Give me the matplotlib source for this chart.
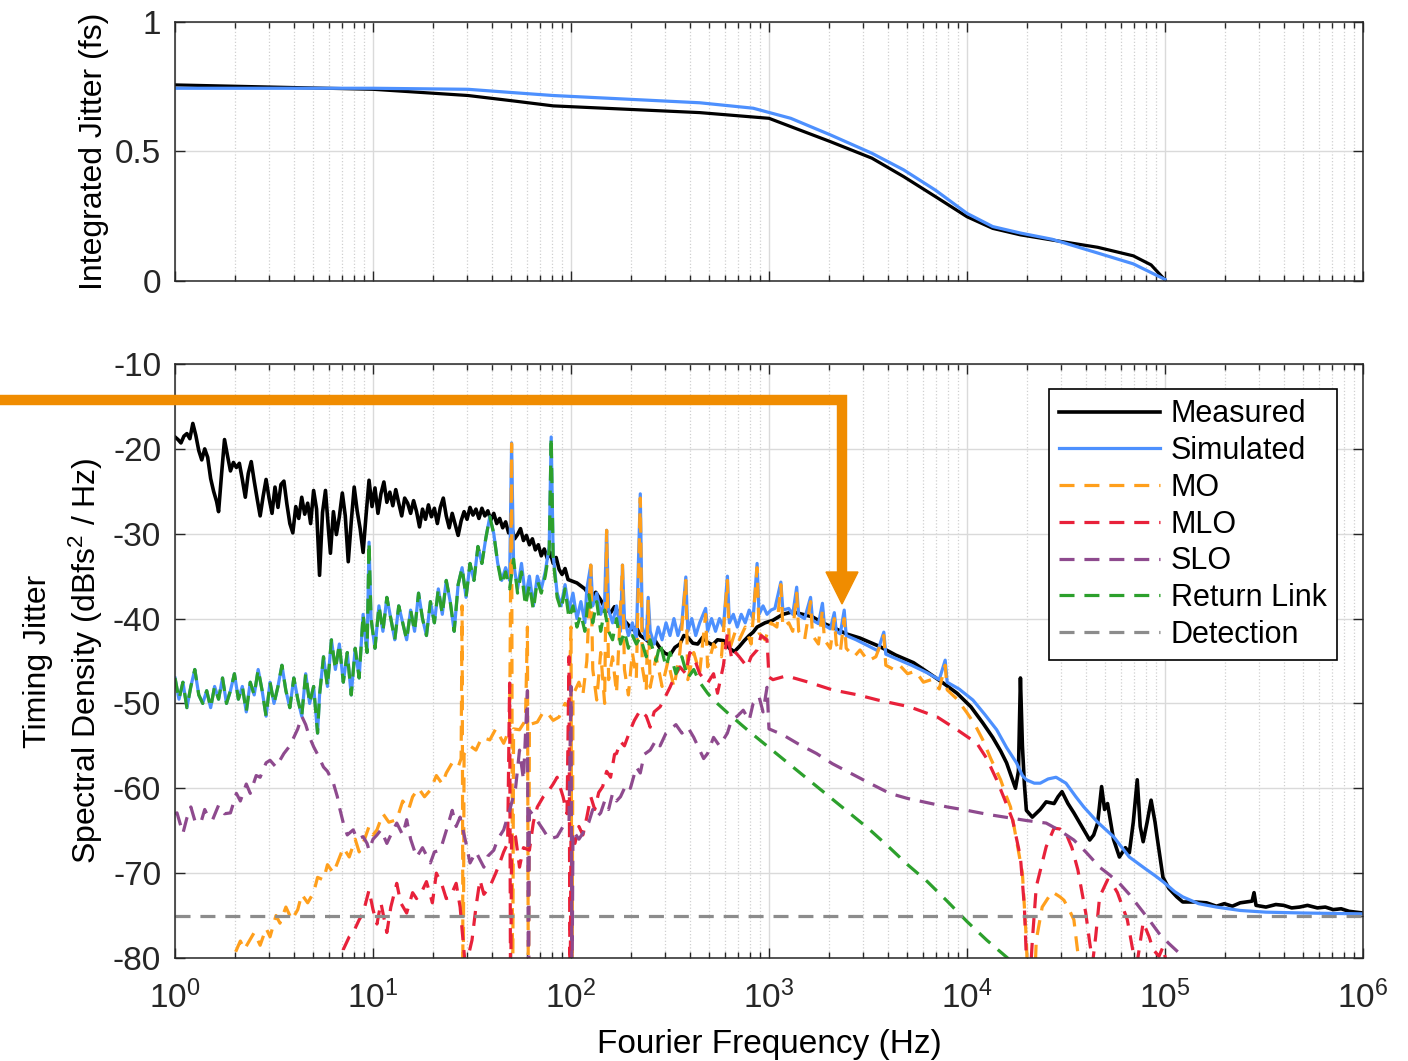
import numpy as np
import matplotlib
matplotlib.use("Agg")
import matplotlib.pyplot as plt
from matplotlib.lines import Line2D
from matplotlib.patches import Polygon

plt.rcParams['font.family'] = ['Liberation Sans', 'DejaVu Sans']
plt.rcParams['mathtext.fontset'] = 'custom'
plt.rcParams['mathtext.rm'] = 'Liberation Sans'
plt.rcParams['mathtext.it'] = 'Liberation Sans:italic'
plt.rcParams['mathtext.default'] = 'regular'
plt.rcParams['axes.unicode_minus'] = False

# ---------------- data (log10 of frequency in Hz, value) ----------------
# top panel: integrated jitter (fs)
int_meas_lf = [0.0, 1.0, 1.48, 1.71, 1.91, 2.65, 3.0, 3.11, 3.31, 3.52, 3.68, 3.84, 4.0,
               4.13, 4.27, 4.43, 4.66, 4.84, 4.93, 5.0]
int_meas = [0.757, 0.740, 0.716, 0.695, 0.676, 0.650, 0.628, 0.596, 0.538, 0.474, 0.403,
            0.326, 0.248, 0.203, 0.178, 0.158, 0.130, 0.097, 0.062, 0.004]
int_sim_lf = [0.0, 1.0, 1.48, 1.71, 1.91, 2.65, 2.92, 3.11, 3.31, 3.52, 3.68, 3.84, 4.0,
              4.13, 4.27, 4.43, 4.66, 4.84, 5.0]
int_sim = [0.744, 0.744, 0.740, 0.727, 0.716, 0.688, 0.667, 0.628, 0.564, 0.493, 0.429,
           0.351, 0.261, 0.210, 0.185, 0.161, 0.108, 0.066, 0.006]

# bottom panel: timing jitter PSD (dBfs^2/Hz), measured as (log10 f, dB) pairs
meas_pts = [
    (0.000, -18.6), (0.015, -18.9), (0.030, -19.3), (0.045, -18.5), (0.060, -18.2),
    (0.075, -18.8), (0.090, -17.0), (0.105, -18.4), (0.120, -20.2), (0.135, -21.3),
    (0.150, -20.0), (0.165, -21.0), (0.180, -23.5), (0.195, -25.0), (0.210, -26.2),
    (0.220, -27.4), (0.235, -23.0), (0.250, -18.9), (0.265, -20.8), (0.280, -22.6),
    (0.295, -21.6), (0.310, -22.2), (0.325, -21.7), (0.340, -23.6), (0.355, -25.7),
    (0.370, -22.9), (0.385, -21.5), (0.400, -23.8), (0.415, -25.9), (0.430, -27.9),
    (0.445, -25.6), (0.460, -23.6), (0.475, -25.8), (0.490, -27.6), (0.505, -24.5),
    (0.520, -26.9), (0.535, -24.2), (0.550, -23.8), (0.565, -26.5), (0.580, -28.8),
    (0.595, -29.9), (0.610, -26.8), (0.625, -28.2), (0.640, -25.7), (0.655, -27.7),
    (0.670, -26.4), (0.685, -28.8), (0.700, -24.9), (0.715, -27.1), (0.730, -34.9),
    (0.745, -27.5), (0.760, -24.9), (0.775, -29.5), (0.785, -32.3), (0.800, -27.4),
    (0.815, -30.1), (0.830, -28.0), (0.845, -25.2), (0.860, -27.9), (0.875, -33.3),
    (0.890, -28.6), (0.905, -24.5), (0.920, -27.3), (0.935, -29.4), (0.950, -32.2),
    (0.965, -27.8), (0.980, -23.7), (0.995, -26.8), (1.010, -24.6), (1.025, -27.6),
    (1.040, -25.3), (1.055, -23.9), (1.070, -26.3), (1.085, -25.1), (1.100, -26.7),
    (1.115, -24.8), (1.130, -26.4), (1.145, -27.9), (1.160, -25.8), (1.175, -26.4),
    (1.190, -27.6), (1.205, -26.1), (1.220, -27.4), (1.235, -29.2), (1.250, -27.1),
    (1.265, -28.3), (1.280, -26.6), (1.295, -28.0), (1.310, -27.0), (1.325, -28.8),
    (1.340, -26.9), (1.355, -25.8), (1.370, -27.9), (1.385, -29.3), (1.400, -27.6),
    (1.415, -28.9), (1.430, -30.2), (1.445, -28.5), (1.460, -27.4), (1.475, -28.3),
    (1.490, -26.9), (1.505, -27.8), (1.520, -27.1), (1.535, -28.2), (1.550, -27.0),
    (1.565, -27.9), (1.580, -27.3), (1.595, -28.4), (1.610, -27.6), (1.625, -28.8),
    (1.640, -28.2), (1.655, -29.3), (1.670, -28.6), (1.685, -29.9), (1.700, -29.2),
    (1.715, -30.6), (1.730, -30.1), (1.745, -29.4), (1.760, -30.8), (1.775, -30.2),
    (1.790, -31.3), (1.805, -30.6), (1.820, -31.9), (1.835, -31.3), (1.850, -32.6),
    (1.865, -31.8), (1.880, -32.9), (1.895, -32.2), (1.910, -33.5), (1.925, -32.8),
    (1.940, -34.2), (1.955, -34.8), (1.970, -34.1), (1.985, -35.4), (2.030, -35.8),
    (2.070, -36.5), (2.100, -37.5), (2.125, -36.9), (2.150, -37.8), (2.175, -38.9),
    (2.200, -39.3), (2.220, -38.6), (2.240, -39.3), (2.260, -40.1), (2.280, -40.5),
    (2.310, -41.3), (2.330, -41.0), (2.350, -42.0), (2.375, -42.4), (2.400, -42.9),
    (2.425, -42.6), (2.450, -43.5), (2.475, -44.1), (2.500, -44.3), (2.525, -43.4),
    (2.550, -43.0), (2.570, -42.0), (2.590, -42.2), (2.615, -42.9), (2.640, -43.0),
    (2.665, -42.2), (2.690, -42.8), (2.715, -43.1), (2.740, -42.5), (2.770, -42.6),
    (2.800, -43.5), (2.825, -43.9), (2.850, -43.3), (2.875, -42.6), (2.900, -42.0),
    (2.920, -41.6), (2.940, -41.0), (2.980, -40.5), (3.020, -40.2), (3.070, -39.5),
    (3.120, -39.2), (3.170, -39.5), (3.220, -39.8), (3.270, -40.5), (3.320, -41.0),
    (3.390, -41.8), (3.460, -42.3), (3.510, -42.8), (3.560, -43.3), (3.640, -44.3),
    (3.730, -45.2), (3.800, -46.3), (3.880, -47.6), (3.950, -48.8), (4.020, -50.4),
    (4.080, -52.3), (4.130, -54.0), (4.170, -55.6), (4.200, -57.0), (4.230, -59.0),
    (4.245, -60.0), (4.260, -58.0), (4.270, -47.0), (4.280, -55.0), (4.290, -59.5),
    (4.300, -62.6), (4.330, -63.4), (4.370, -62.5), (4.400, -61.6), (4.440, -61.8),
    (4.460, -61.0), (4.480, -60.4), (4.510, -61.8), (4.540, -62.9), (4.580, -64.5),
    (4.620, -66.1), (4.640, -65.5), (4.660, -64.1), (4.680, -59.8), (4.695, -62.5),
    (4.710, -61.8), (4.740, -66.0), (4.770, -68.1), (4.800, -67.0), (4.820, -67.6),
    (4.840, -64.0), (4.860, -59.0), (4.875, -64.5), (4.890, -66.3), (4.910, -64.0),
    (4.930, -61.4), (4.950, -64.0), (4.960, -65.7), (4.990, -70.5), (5.020, -71.8),
    (5.060, -72.8), (5.090, -73.4), (5.150, -73.4), (5.210, -73.5), (5.260, -73.9),
    (5.300, -73.6), (5.340, -73.9), (5.380, -73.5), (5.440, -73.3), (5.450, -72.3),
    (5.460, -73.8), (5.510, -74.0), (5.560, -73.7), (5.600, -73.8), (5.640, -74.1),
    (5.680, -74.0), (5.720, -73.8), (5.770, -74.1), (5.810, -74.0), (5.850, -74.3),
    (5.890, -74.2), (5.930, -74.5), (6.000, -74.7)]
meas_lf = [p[0] for p in meas_pts]
meas = [p[1] for p in meas_pts]

rl_lf = [0.00, 0.02, 0.04, 0.06, 0.08, 0.10, 0.12, 0.14, 0.16, 0.18, 0.20, 0.22, 0.24, 0.26,
         0.28, 0.30, 0.32, 0.34, 0.36, 0.38, 0.40, 0.42, 0.44, 0.46, 0.48, 0.50, 0.52, 0.54,
         0.56, 0.58, 0.60, 0.62, 0.64, 0.66, 0.68, 0.70, 0.72, 0.73, 0.75, 0.77, 0.79, 0.81,
         0.83, 0.85, 0.87, 0.89, 0.91, 0.93, 0.95, 0.97, 0.98, 0.99, 1.01, 1.03, 1.05, 1.07,
         1.09, 1.11, 1.13, 1.15, 1.17, 1.19, 1.21, 1.23, 1.25, 1.27, 1.29, 1.31, 1.33, 1.35,
         1.37, 1.39, 1.41, 1.43, 1.45, 1.47, 1.49, 1.51, 1.53, 1.55, 1.57, 1.59, 1.61, 1.63,
         1.65, 1.67, 1.69, 1.71, 1.73, 1.75, 1.77, 1.79, 1.81, 1.83, 1.85, 1.87, 1.89, 1.90,
         1.91, 1.93, 1.95, 1.97, 1.99, 2.01, 2.03, 2.05, 2.07, 2.09, 2.11, 2.13, 2.15, 2.17,
         2.19, 2.21, 2.23, 2.25, 2.27, 2.29, 2.31, 2.33, 2.35, 2.38, 2.40, 2.43, 2.45, 2.48,
         2.50, 2.53, 2.56, 2.59, 2.62, 2.65, 2.69, 2.72, 2.80, 2.90, 3.00, 3.10, 3.20, 3.30,
         3.40, 3.50, 3.60, 3.70, 3.80, 3.90, 4.00, 4.10, 4.20, 4.30]
rl = [-47.0, -49.5, -47.5, -50.5, -48.0, -46.0, -49.0, -50.0, -48.5, -50.5, -48.0, -49.5,
      -47.0, -50.0, -48.5, -46.5, -49.5, -48.0, -51.0, -47.5, -49.0, -46.0, -48.5, -51.5,
      -47.5, -50.0, -48.0, -45.5, -48.5, -50.5, -47.0, -49.5, -51.5, -46.5, -50.0, -48.0,
      -53.5, -49.0, -44.5, -48.0, -42.5, -46.0, -43.0, -47.5, -44.0, -49.0, -43.5, -47.0,
      -39.5, -44.0, -31.0, -40.0, -43.5, -38.5, -41.5, -37.5, -40.0, -42.5, -38.5, -40.5,
      -42.5, -39.0, -41.5, -37.0, -40.0, -42.0, -38.0, -40.5, -36.5, -39.5, -35.5, -38.0,
      -41.5, -36.0, -34.0, -37.5, -33.5, -35.5, -31.5, -33.5, -30.5, -28.0, -30.0, -33.5,
      -36.0, -34.5, -36.5, -33.0, -37.0, -34.5, -38.5, -36.0, -39.0, -35.5, -37.0, -35.0,
      -32.0, -18.6, -33.0, -37.5, -39.0, -36.5, -40.0, -38.5, -41.0, -39.5, -41.5, -37.0,
      -40.5, -38.0, -41.5, -39.0, -41.5, -42.5, -40.0, -43.0, -41.5, -43.5, -42.0, -43.0,
      -42.2, -44.5, -42.5, -45.0, -42.9, -45.7, -44.0, -46.5, -44.5, -47.0, -46.0, -47.5,
      -48.8, -49.6, -51.3, -53.3, -55.2, -57.1, -59.0, -60.9, -62.8, -64.7, -66.8, -69.0,
      -71.0, -73.3, -75.7, -77.9, -79.9, -82.0]

# simulated total: coincides with the return link up to ~40 Hz
sim_lf_hi = [1.65, 1.67, 1.69, 1.70, 1.71, 1.73, 1.75, 1.77, 1.79, 1.81, 1.83, 1.85, 1.87, 1.89,
             1.90, 1.91, 1.93, 1.95, 1.97, 1.99, 2.01, 2.03, 2.05, 2.07, 2.08, 2.10, 2.11, 2.13,
             2.15, 2.17, 2.18, 2.19, 2.21, 2.23, 2.25, 2.26, 2.27, 2.29, 2.31, 2.33, 2.35, 2.36,
             2.38, 2.39, 2.40, 2.42, 2.44, 2.46, 2.48, 2.50, 2.52, 2.54, 2.56, 2.58, 2.59, 2.61,
             2.63, 2.65, 2.68, 2.69, 2.71, 2.73, 2.75, 2.77, 2.79, 2.80, 2.82, 2.84, 2.86, 2.88,
             2.90, 2.92, 2.94, 2.95, 2.97, 2.99, 3.01, 3.03, 3.06, 3.07, 3.10, 3.12, 3.14, 3.15,
             3.18, 3.21, 3.22, 3.25, 3.27, 3.28, 3.31, 3.33, 3.34, 3.36, 3.38, 3.39, 3.44, 3.50,
             3.55, 3.58, 3.59, 3.65, 3.72, 3.80, 3.86, 3.89, 3.90, 3.96, 4.03, 4.09, 4.15, 4.20,
             4.25, 4.28, 4.30, 4.34, 4.37, 4.41, 4.45, 4.50, 4.55, 4.59, 4.66, 4.74, 4.82, 4.89,
             4.95, 4.99, 5.05, 5.09, 5.17, 5.26, 5.38, 5.51, 5.70, 6.00]
sim_hi = [-35.5, -34.0, -35.5, -19.3, -33.5, -36.5, -33.5, -37.5, -35.0, -38.5, -35.0, -36.5,
          -34.5, -31.5, -18.6, -32.5, -37.0, -38.5, -36.0, -39.0, -37.0, -40.0, -38.0, -40.5,
          -36.5, -33.7, -38.5, -37.0, -39.5, -38.0, -29.6, -39.0, -40.5, -38.5, -41.5, -33.7,
          -40.0, -42.0, -40.5, -42.5, -25.3, -41.0, -42.5, -37.5, -41.5, -43.0, -41.0, -42.5,
          -40.5, -42.0, -40.0, -42.0, -40.5, -35.1, -41.5, -40.0, -42.0, -40.5, -38.8, -41.5,
          -40.0, -41.5, -40.0, -41.0, -35.0, -40.5, -39.5, -41.0, -39.5, -40.5, -39.0, -40.0,
          -33.5, -39.5, -38.5, -39.5, -39.0, -38.8, -35.7, -39.0, -38.8, -39.5, -36.3, -39.6,
          -40.0, -37.5, -40.2, -40.6, -38.2, -40.8, -41.2, -39.3, -41.5, -41.8, -39.0, -42.0,
          -42.5, -43.2, -43.8, -41.6, -44.2, -44.8, -45.5, -46.4, -47.2, -44.9, -47.5, -48.3,
          -49.6, -51.3, -53.1, -55.2, -57.0, -58.5, -59.0, -59.4, -59.4, -58.9, -58.7, -59.4,
          -61.0, -62.2, -64.0, -65.7, -68.1, -69.3, -70.3, -71.0, -72.2, -72.8, -73.6, -74.0,
          -74.4, -74.6, -74.7, -74.8]

mo_lf = [0.26, 0.30, 0.33, 0.35, 0.37, 0.40, 0.43, 0.46, 0.48, 0.51, 0.53, 0.56, 0.59, 0.62,
         0.64, 0.67, 0.70, 0.72, 0.75, 0.77, 0.80, 0.82, 0.85, 0.88, 0.91, 0.93, 0.95, 0.98,
         1.00, 1.02, 1.05, 1.08, 1.12, 1.15, 1.18, 1.20, 1.23, 1.26, 1.29, 1.32, 1.35, 1.37,
         1.40, 1.43, 1.445, 1.45, 1.455, 1.46, 1.49, 1.52, 1.55, 1.59, 1.62, 1.66, 1.69, 1.70,
         1.705, 1.71, 1.74, 1.77, 1.78, 1.785, 1.79, 1.83, 1.86, 1.88, 1.91, 1.94, 1.97, 1.99,
         2.00, 2.005, 2.01, 2.04, 2.06, 2.08, 2.10, 2.11, 2.13, 2.15, 2.17, 2.18, 2.19, 2.21,
         2.23, 2.26, 2.27, 2.29, 2.31, 2.33, 2.35, 2.36, 2.38, 2.39, 2.40, 2.43, 2.46, 2.49,
         2.52, 2.55, 2.58, 2.59, 2.62, 2.65, 2.68, 2.69, 2.72, 2.76, 2.79, 2.80, 2.83, 2.85,
         2.88, 2.91, 2.94, 2.95, 2.98, 3.01, 3.04, 3.06, 3.07, 3.10, 3.12, 3.14, 3.15, 3.18,
         3.21, 3.22, 3.25, 3.27, 3.28, 3.31, 3.33, 3.34, 3.36, 3.38, 3.39, 3.43, 3.46, 3.50,
         3.54, 3.58, 3.59, 3.63, 3.66, 3.70, 3.74, 3.78, 3.82, 3.86, 3.89, 3.90, 3.95, 4.00,
         4.04, 4.08, 4.12, 4.17, 4.20, 4.22, 4.25, 4.28, 4.29, 4.30, 4.31, 4.34, 4.35, 4.38,
         4.43, 4.47, 4.49, 4.52, 4.54, 4.56, 4.57]
mo = [-82.0, -79.6, -78.0, -79.0, -78.2, -77.0, -78.5, -76.5, -77.5, -75.0, -75.9, -74.0,
      -75.5, -74.3, -72.5, -73.5, -72.3, -70.5, -70.8, -69.0, -70.0, -68.8, -67.0, -68.1,
      -66.0, -67.5, -66.5, -64.5, -65.5, -64.9, -63.0, -64.0, -63.7, -61.5, -62.5, -61.0,
      -60.0, -61.0, -60.2, -58.5, -59.5, -58.2, -57.0, -57.5, -56.5, -38.5, -90.0, -56.0,
      -55.0, -55.5, -54.0, -54.3, -53.0, -54.7, -53.0, -19.4, -90.0, -53.0, -53.1, -52.0,
      -41.0, -90.0, -52.5, -52.2, -51.0, -51.1, -52.0, -51.6, -50.0, -50.4, -41.0, -88.0,
      -49.0, -47.5, -49.0, -45.0, -33.7, -46.0, -49.6, -44.0, -50.0, -29.6, -47.2, -44.5,
      -48.8, -33.7, -46.0, -49.0, -44.0, -47.0, -25.8, -45.7, -48.5, -37.8, -48.1, -44.5,
      -48.0, -45.0, -48.1, -44.0, -35.5, -47.2, -44.0, -46.4, -39.5, -45.7, -43.0, -44.5,
      -35.5, -43.7, -41.5, -42.5, -41.0, -43.0, -34.0, -41.7, -42.5, -40.5, -41.0, -36.0,
      -41.0, -40.5, -41.5, -37.0, -41.5, -42.5, -38.0, -42.0, -43.0, -39.0, -42.5, -43.5,
      -40.0, -43.0, -44.0, -40.0, -43.5, -44.5, -43.7, -45.0, -44.5, -42.0, -45.5, -46.0,
      -45.5, -46.5, -46.2, -47.5, -47.2, -48.3, -45.5, -48.4, -49.5, -51.1, -52.5, -54.3,
      -56.5, -59.0, -61.0, -62.2, -66.1, -70.0, -74.0, -77.9, -85.0, -84.0, -77.9, -74.0,
      -72.2, -72.8, -73.2, -74.5, -75.5, -79.4, -85.0]

mlo_lf = [0.84, 0.85, 0.88, 0.90, 0.93, 0.95, 0.98, 1.00, 1.02, 1.04, 1.07, 1.09, 1.12, 1.14,
          1.17, 1.20, 1.22, 1.25, 1.27, 1.30, 1.32, 1.35, 1.37, 1.39, 1.42, 1.44, 1.45, 1.47,
          1.48, 1.50, 1.52, 1.54, 1.56, 1.59, 1.62, 1.64, 1.66, 1.68, 1.69, 1.695, 1.70, 1.72,
          1.74, 1.76, 1.79, 1.81, 1.83, 1.86, 1.89, 1.91, 1.93, 1.96, 1.98, 1.99, 1.995, 2.00,
          2.02, 2.04, 2.06, 2.08, 2.10, 2.12, 2.14, 2.16, 2.18, 2.20, 2.22, 2.23, 2.25, 2.27,
          2.30, 2.32, 2.35, 2.38, 2.40, 2.42, 2.45, 2.47, 2.50, 2.52, 2.55, 2.58, 2.60, 2.62,
          2.65, 2.69, 2.72, 2.74, 2.77, 2.79, 2.81, 2.82, 2.85, 2.89, 2.91, 2.94, 2.96, 2.99,
          3.00, 3.02, 3.08, 3.11, 3.20, 3.32, 3.45, 3.55, 3.71, 3.85, 3.95, 4.05, 4.10, 4.15,
          4.19, 4.23, 4.27, 4.29, 4.30, 4.31, 4.33, 4.35, 4.40, 4.44, 4.47, 4.50, 4.53, 4.56,
          4.60, 4.62, 4.635, 4.65, 4.67, 4.71, 4.74, 4.76, 4.81, 4.84, 4.86, 4.89, 4.92, 4.94,
          4.97, 4.99, 5.02]
mlo = [-82.0, -79.0, -77.5, -77.0, -75.5, -74.7, -72.0, -74.3, -76.0, -73.5, -77.0, -74.0,
       -71.2, -73.5, -74.7, -72.3, -73.0, -72.0, -71.0, -73.5, -70.0, -71.5, -73.0, -72.8,
       -71.2, -74.0, -76.7, -82.0, -79.9, -77.9, -74.0, -70.8, -72.5, -71.6, -70.0, -68.8,
       -67.5, -66.5, -47.6, -88.0, -65.0, -65.7, -69.3, -67.0, -67.3, -64.0, -62.2, -61.0,
       -60.2, -59.5, -58.7, -61.0, -63.0, -44.5, -88.0, -65.3, -66.5, -64.5, -65.5, -63.4,
       -61.0, -62.5, -60.5, -59.8, -58.0, -58.7, -56.0, -55.9, -54.5, -55.0, -53.1, -52.0,
       -50.8, -51.5, -52.8, -51.0, -50.4, -49.5, -48.1, -47.0, -45.7, -46.5, -44.0, -44.5,
       -46.5, -47.6, -46.5, -48.8, -45.5, -41.7, -44.5, -43.7, -44.5, -45.7, -44.5, -43.7,
       -42.0, -42.5, -46.9, -47.2, -46.8, -46.9, -47.5, -48.4, -49.0, -49.6, -50.4, -51.6,
       -53.1, -54.7, -56.5, -59.0, -61.3, -63.7, -68.1, -74.0, -79.9, -86.0, -78.0, -71.6,
       -66.9, -64.7, -64.8, -65.3, -67.0, -69.6, -74.7, -78.2, -80.5, -77.5, -72.8, -70.8,
       -71.5, -72.3, -75.5, -79.4, -80.5, -75.8, -77.5, -79.0, -79.8, -78.7, -82.0]

slo_lf = [0.00, 0.01, 0.03, 0.04, 0.06, 0.08, 0.10, 0.13, 0.15, 0.17, 0.19, 0.22, 0.25, 0.28,
          0.31, 0.33, 0.36, 0.38, 0.41, 0.43, 0.46, 0.48, 0.51, 0.55, 0.58, 0.60, 0.62, 0.64,
          0.66, 0.68, 0.70, 0.72, 0.75, 0.77, 0.80, 0.82, 0.83, 0.85, 0.87, 0.90, 0.92, 0.95,
          0.97, 0.98, 1.00, 1.02, 1.04, 1.07, 1.10, 1.12, 1.15, 1.17, 1.19, 1.22, 1.25, 1.29,
          1.31, 1.34, 1.37, 1.40, 1.42, 1.44, 1.47, 1.49, 1.52, 1.56, 1.58, 1.61, 1.63, 1.66,
          1.69, 1.72, 1.74, 1.76, 1.78, 1.785, 1.79, 1.82, 1.86, 1.89, 1.93, 1.96, 1.99, 2.00,
          2.005, 2.01, 2.04, 2.06, 2.09, 2.11, 2.13, 2.15, 2.17, 2.19, 2.21, 2.23, 2.25, 2.28,
          2.30, 2.33, 2.35, 2.37, 2.40, 2.43, 2.45, 2.48, 2.50, 2.53, 2.56, 2.59, 2.62, 2.65,
          2.67, 2.69, 2.72, 2.75, 2.79, 2.81, 2.84, 2.87, 2.90, 2.92, 2.95, 2.97, 2.99, 3.00,
          3.07, 3.15, 3.24, 3.32, 3.41, 3.50, 3.61, 3.70, 3.80, 3.90, 4.00, 4.11, 4.22, 4.30,
          4.40, 4.47, 4.54, 4.60, 4.67, 4.72, 4.77, 4.82, 4.87, 4.92, 4.97, 5.02, 5.08, 5.12]
slo = [-63.0, -62.9, -64.5, -65.3, -63.5, -62.2, -63.8, -64.1, -62.5, -63.5, -63.7, -62.0,
       -63.0, -62.9, -60.6, -61.5, -59.5, -60.6, -58.5, -58.7, -57.0, -56.7, -57.5, -55.9,
       -55.0, -54.0, -53.0, -51.5, -52.5, -54.0, -55.1, -56.0, -57.5, -58.0, -59.4, -61.0,
       -62.2, -64.1, -65.5, -64.9, -66.0, -65.7, -66.5, -67.3, -66.0, -65.5, -64.9, -66.5,
       -65.0, -64.1, -65.5, -63.7, -66.0, -68.1, -67.0, -68.8, -67.5, -67.3, -65.0, -62.6,
       -64.5, -63.4, -66.5, -68.8, -67.5, -69.3, -68.0, -67.3, -66.0, -64.9, -62.6, -60.0,
       -55.5, -59.0, -48.5, -88.0, -62.6, -63.5, -64.9, -66.0, -65.7, -64.5, -64.1, -48.0,
       -85.0, -65.0, -66.0, -65.3, -64.0, -62.5, -63.4, -62.9, -61.5, -62.5, -60.6, -61.5,
       -61.0, -59.5, -60.0, -57.5, -58.2, -56.0, -55.5, -54.3, -55.0, -53.5, -53.1, -52.5,
       -53.5, -52.8, -54.0, -55.5, -56.5, -55.9, -54.0, -55.0, -53.5, -52.0, -51.5, -50.8,
       -52.0, -50.0, -49.2, -51.0, -48.1, -53.0, -53.7, -54.8, -55.9, -57.1, -58.2, -59.3,
       -60.6, -61.2, -61.7, -62.2, -62.6, -63.1, -63.5, -63.8, -64.1, -65.0, -66.1, -67.5,
       -69.3, -70.2, -71.2, -72.5, -74.0, -75.5, -77.1, -78.3, -79.6, -81.0]

det_lf = [0.0, 6.0]
det = [-75.0, -75.0]

labels = ['Measured', 'Simulated', 'MO', 'MLO', 'SLO', 'Return Link', 'Detection']
colors = ['black', '#4D90FE', '#FF9F1C', '#E8213A', '#8E4A8E', '#2CA02C', '#8C8C8C']

# simulated curve = return link below ~40 Hz, then its own values
n_low = rl_lf.index(1.63) + 1
sim_lf = rl_lf[:n_low] + sim_lf_hi
sim = rl[:n_low] + sim_hi


def hz(lf):
    return 10 ** np.array(lf)


def style_axes(ax):
    ax.set_xscale('log')
    ax.set_xlim(1, 1e6)
    ax.tick_params(which='both', direction='in', top=True, right=True, colors='#262626',
                   labelsize=24, width=1.0)
    ax.tick_params(which='major', length=7)
    ax.tick_params(which='minor', length=4)
    ax.grid(which='major', color='#DADADA', linewidth=1.0)
    ax.grid(which='minor', axis='x', color='#D0D0D0', linestyle=':', linewidth=0.9)
    for s in ax.spines.values():
        s.set_color('#262626')
        s.set_linewidth(1.1)
    ax.set_axisbelow(True)


fig = plt.figure(figsize=(14.08, 10.61), dpi=100)
ax1 = fig.add_axes([0.1243, 0.7352, 0.8437, 0.2441])
ax2 = fig.add_axes([0.1243, 0.0971, 0.8437, 0.5598])

# top panel
style_axes(ax1)
ax1.plot(hz(int_meas_lf), int_meas, color='black', lw=2.3)
ax1.plot(hz(int_sim_lf), int_sim, color=colors[1], lw=2.3)
ax1.set_ylim(0, 1)
ax1.set_yticks([0, 0.5, 1])
ax1.set_yticklabels(['0', '0.5', '1'])
ax1.tick_params(axis='x', labelbottom=False)
ax1.tick_params(axis='y', pad=10)
ax1.set_ylabel('Integrated Jitter (fs)', fontsize=23, labelpad=4)

# bottom panel
style_axes(ax2)
dash = (4.7, 3.1)
ax2.plot(hz(meas_lf), meas, color=colors[0], lw=2.6, label=labels[0])
ax2.plot(hz(sim_lf), sim, color=colors[1], lw=2.3, label=labels[1])
series = [(mo_lf, mo), (mlo_lf, mlo), (slo_lf, slo), (rl_lf, rl), (det_lf, det)]
for (lf, vals), c, lab in zip(series, colors[2:], labels[2:]):
    ax2.plot(hz(lf), vals, color=c, lw=2.3, linestyle='--', dashes=dash, label=lab)
ax2.set_ylim(-80, -10)
ax2.set_yticks(np.arange(-80, -9, 10))
ax2.set_yticks([-75], minor=True)
ax2.tick_params(axis='y', pad=10)
ax2.tick_params(axis='x', pad=16)
ax2.set_xticks([10 ** k for k in range(7)])
ax2.set_xlabel('Fourier Frequency (Hz)', fontsize=24, labelpad=10)
ax2.set_ylabel('Timing Jitter\nSpectral Density (dBfs$^2$ / Hz)', fontsize=23,
               labelpad=6, linespacing=1.45)

leg = ax2.legend(loc='upper right', bbox_to_anchor=(1337 / 1408, 1 - 389 / 1061),
                 bbox_transform=fig.transFigure, borderaxespad=0, fontsize=22,
                 frameon=True, fancybox=False, edgecolor='black', framealpha=1,
                 handlelength=3.3, handletextpad=0.35, labelspacing=0.22, borderpad=0.34)
leg.get_frame().set_linewidth(1.2)

# orange callout arrow drawn over the figure
y0 = 1 - 400 / 1061
xc = 842 / 1408
y1 = 1 - 574 / 1061
fig.add_artist(Line2D([0, xc, xc], [y0, y0, y1], color='#F08C00', lw=7.5,
                      solid_joinstyle='miter', transform=fig.transFigure, zorder=10))
fig.add_artist(Polygon([(826 / 1408, 1 - 572 / 1061), (858 / 1408, 1 - 572 / 1061),
                        (xc, 1 - 604 / 1061)], closed=True, color='#F08C00',
                       transform=fig.transFigure, zorder=10))

fig.savefig('out.png', dpi=100)
